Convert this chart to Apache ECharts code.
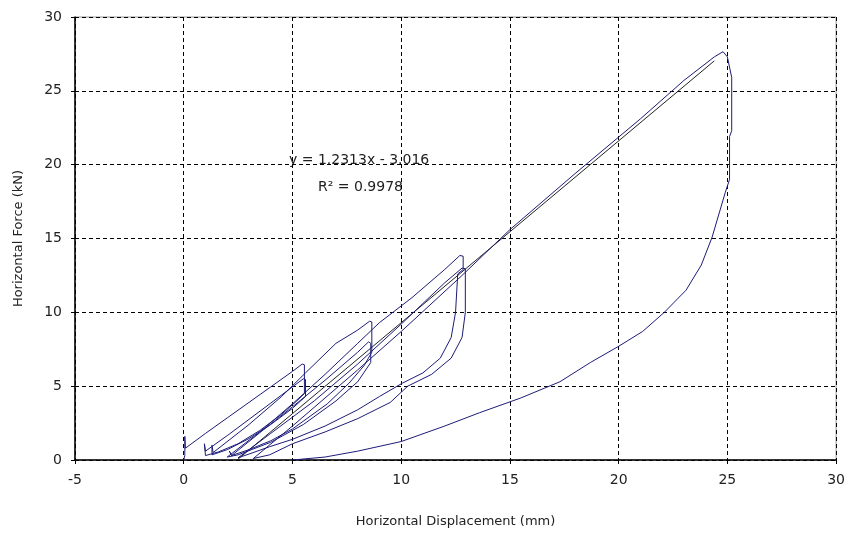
<!DOCTYPE html>
<html>
<head>
<meta charset="utf-8">
<script src="https://cdn.jsdelivr.net/npm/echarts@6/dist/echarts.min.js"></script>
<style>
  html, body { margin: 0; padding: 0; background: #fff; }
  #main { width: 848px; height: 533px; }
</style>
</head>
<body>
<div id="main"></div>
<script>
// hysteresis record, in test order
var disp = [
  0, 0.05, 0.05, 0.08,
  1, 2, 3, 4, 5, 5.45, 5.55,
  5.55, 5.2, 4.5, 3.5, 2.5, 1.6, 1.0,
  0.95, 1.0,
  2, 3, 4, 5, 5.5, 5.6, 5.6, 5.0, 4, 3, 2, 1.3,
  1.3, 1.35,
  3, 4.5, 5.6, 7, 8.0, 8.55, 8.65,
  8.65, 8.3, 7.6, 6.6, 5.0, 4, 3, 2.2,
  2.1, 2.2,
  3.5, 5, 6.5, 8, 8.5, 8.6, 8.6, 8.0, 7, 5.5, 4, 2.5, 2.0,
  3.5, 5, 6.5, 8, 9, 10.5, 12, 12.7, 12.85,
  12.85, 12.6, 12.5, 12.3, 11.8, 11.0, 10.05, 9.0, 8, 6.5, 5, 3.95, 3, 2.5,
  4, 6, 8, 10, 12, 12.8, 12.95,
  12.95, 12.8, 12.3, 11.4, 10.3, 9.5, 8, 6.5, 5, 3.95, 3.2,
  5, 8, 10, 12.8, 15, 18, 21, 23, 24.4, 24.8,
  25.0, 25.2, 25.2, 25.1, 25.1, 24.9, 24.3, 23.8, 23.1, 22.1, 21.1, 20.0, 18.7, 17.3,
  15.5, 13.6, 12, 10, 8, 6.5, 5
];
var force = [
  0, 0.3, 1.6, 0.8,
  1.8, 2.85, 3.9, 4.95, 6.0, 6.5, 6.45,
  4.5, 4.0, 3.1, 2.0, 1.1, 0.55, 0.3,
  1.1, 0.6,
  1.65, 2.75, 3.85, 4.95, 5.5, 5.45, 4.3, 3.5, 2.4, 1.45, 0.7, 0.35,
  1.0, 0.5,
  2.4, 4.3, 5.9, 7.9, 8.8, 9.4, 9.35,
  7.3, 6.4, 5.2, 3.8, 2.1, 1.3, 0.7, 0.3,
  0.6, 0.3,
  1.85, 3.6, 5.4, 7.3, 8.0, 7.9, 6.6, 5.3, 4.0, 2.4, 1.2, 0.35, 0.2,
  1.9, 3.8, 5.8, 7.9, 9.3, 11.0, 12.9, 13.85, 13.8,
  12.9, 12.6, 10.0, 8.3, 6.9, 5.9, 5.2, 4.3, 3.4, 2.3, 1.4, 0.9, 0.4, 0.15,
  1.8, 4.0, 6.5, 9.2, 12.0, 13.0, 12.95,
  10.0, 8.3, 6.9, 5.8, 5.0, 3.9, 2.8, 1.9, 1.1, 0.35, 0.1,
  2.3, 6.1, 8.7, 12.5, 15.6, 19.4, 23.1, 25.7, 27.3, 27.65,
  27.3, 25.9, 22.3, 21.9, 19.0, 18.1, 15.1, 13.2, 11.5, 10.0, 8.7, 7.7, 6.6, 5.3,
  4.2, 3.2, 2.3, 1.25, 0.6, 0.2, 0
];
// linear trend line end points
var trendX = [2.45, 24.4];
var trendY = [0, 27.03];
var trendText = 'y = 1.2313x - 3.016';
var r2Text = 'R\u00b2 = 0.9978';

var curve = disp.map(function (x, i) { return [x, force[i]]; });
var trend = trendX.map(function (x, i) { return [x, trendY[i]]; });

var myChart = echarts.init(document.getElementById('main'));
var font = 'DejaVu Sans, sans-serif';
var dashed = { show: true, lineStyle: { color: '#000', width: 1, type: [4, 3] } };

myChart.setOption({
  animation: false,
  backgroundColor: '#fff',
  grid: {
    left: 75, right: 11, top: 17, bottom: 73,
    show: true, borderColor: '#999', borderWidth: 1
  },
  xAxis: {
    type: 'value', min: -5, max: 30, interval: 5,
    name: 'Horizontal Displacement (mm)',
    nameLocation: 'middle', nameGap: 55,
    nameTextStyle: { fontFamily: font, fontSize: 13, color: '#222' },
    axisLine: { onZero: false, lineStyle: { color: '#000', width: 1.5 } },
    axisTick: { show: true, length: 4, lineStyle: { color: '#000' } },
    axisLabel: { fontFamily: font, fontSize: 14, color: '#222', margin: 13 },
    splitLine: dashed
  },
  yAxis: {
    type: 'value', min: 0, max: 30, interval: 5,
    name: 'Horizontal Force (kN)',
    nameLocation: 'middle', nameGap: 50,
    nameTextStyle: { fontFamily: font, fontSize: 13, color: '#222' },
    axisLine: { show: true, onZero: false, lineStyle: { color: '#000', width: 1.5 } },
    axisTick: { show: true, length: 4, lineStyle: { color: '#000' } },
    axisLabel: { fontFamily: font, fontSize: 14, color: '#222', margin: 13 },
    splitLine: dashed
  },
  series: [
    {
      type: 'line', data: curve, showSymbol: false, symbol: 'none',
      lineStyle: { color: '#1c1c78', width: 1 }, z: 3
    },
    {
      type: 'line', data: trend, showSymbol: false, symbol: 'none',
      lineStyle: { color: '#222', width: 1 }, z: 2
    }
  ],
  graphic: [
    { type: 'text', left: 289, top: 153,
      style: { text: trendText, font: '14px ' + font, fill: '#222' } },
    { type: 'text', left: 318, top: 180,
      style: { text: r2Text, font: '14px ' + font, fill: '#222' } }
  ]
});
</script>
</body>
</html>
